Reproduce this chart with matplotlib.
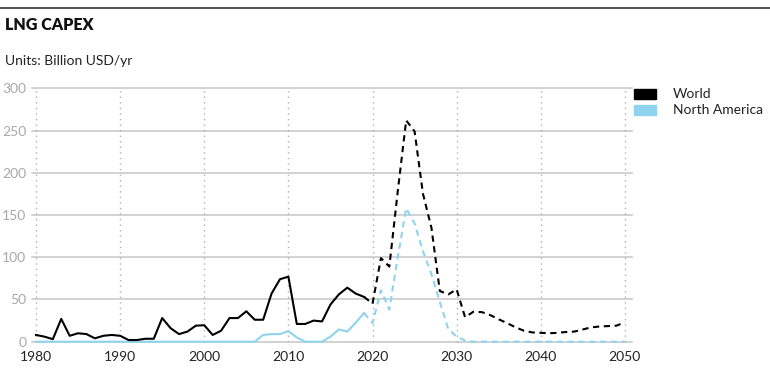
import numpy as np
import matplotlib
matplotlib.use("Agg")
import matplotlib.pyplot as plt
from matplotlib.patches import Rectangle
from matplotlib.lines import Line2D

plt.rcParams['font.family'] = ['Lato', 'DejaVu Sans']

# Data ------------------------------------------------------------------------
years_hist = np.arange(1980, 2020)
world_hist = [8, 6, 3, 27, 7, 10, 9, 4, 7, 8,
              7, 2, 2, 3.5, 3.5, 28, 16, 9, 12, 19,
              19.5, 8, 13, 28, 28, 36, 26, 26, 57, 74,
              77, 21, 21, 25, 24, 44, 56, 64, 57, 53]
na_hist = [0] * 27 + [8, 9, 9, 12.5, 5, 0, 0, 0, 6, 14.5, 12, 22.5, 34]

years_proj = np.arange(2019, 2051)
world_proj = [53, 45, 99, 89, 178, 262, 249, 175, 135, 60,
              56, 62, 29, 35.5, 35, 31.5, 26.5, 22, 17, 13,
              11, 10.5, 10, 10.5, 11.5, 12, 14.5, 17, 18, 18.5,
              19, 23]
na_proj = [34, 22, 61, 38, 100, 158, 140, 107, 80, 47, 15, 6, 1.5] + [0] * 19

x_ticks = [1980, 1990, 2000, 2010, 2020, 2030, 2040, 2050]
y_ticks = [0, 50, 100, 150, 200, 250, 300]

black = '#000000'
blue = '#8fd3ef'
grid_c = '#c6c6c6'

# Figure ----------------------------------------------------------------------
fig = plt.figure(figsize=(7.7, 3.73), dpi=100)
ax = fig.add_axes([0.0413, 0.0839, 0.779, 0.6794])

for yv in y_ticks:
    ax.axhline(yv, color=grid_c, lw=1.1, zorder=1, clip_on=False)
for xv in x_ticks:
    ax.axvline(xv, color='#b0b0b0', lw=1, ls=(0, (1, 3)), zorder=1)

dash = (0, (3, 2.2))
ax.plot(years_hist, na_hist, color=blue, lw=1.5, zorder=3, clip_on=False)
ax.plot(years_proj, na_proj, color=blue, lw=1.5, ls=dash, zorder=3, clip_on=False)
ax.plot(years_hist, world_hist, color=black, lw=1.5, zorder=4)
ax.plot(years_proj, world_proj, color=black, lw=1.5, ls=dash, zorder=4)

ax.set_xlim(1979.5, 2050.8)
ax.set_ylim(0, 300)
ax.set_xticks(x_ticks)
ax.set_yticks(y_ticks)
ax.tick_params(axis='x', length=0, pad=7, labelsize=10, labelcolor='#222222')
ax.tick_params(axis='y', length=0, pad=4, labelsize=10, labelcolor='#a8a8a8')
for s in ax.spines.values():
    s.set_visible(False)

# titles and top rule
fig.add_artist(Line2D([0, 1], [1 - 8 / 373, 1 - 8 / 373], color='#333333', lw=1.2))
fig.text(5 / 770, 1 - 25 / 373, 'LNG CAPEX', fontsize=11.5, fontweight='heavy',
         va='center', ha='left', color='#111111')
fig.text(5 / 770, 1 - 61 / 373, 'Units: Billion USD/yr', fontsize=10,
         va='center', ha='left', color='#222222')

# legend
fig.add_artist(Rectangle((634 / 770, 1 - 99 / 373), 22 / 770, 10 / 373,
                         color=black, transform=fig.transFigure))
fig.add_artist(Rectangle((634 / 770, 1 - 115 / 373), 22 / 770, 10 / 373,
                         color=blue, transform=fig.transFigure))
fig.text(673 / 770, 1 - 94 / 373, 'World', fontsize=10, va='center', color='#222222')
fig.text(673 / 770, 1 - 110 / 373, 'North America', fontsize=10, va='center', color='#222222')

fig.savefig('out.png', dpi=100)
